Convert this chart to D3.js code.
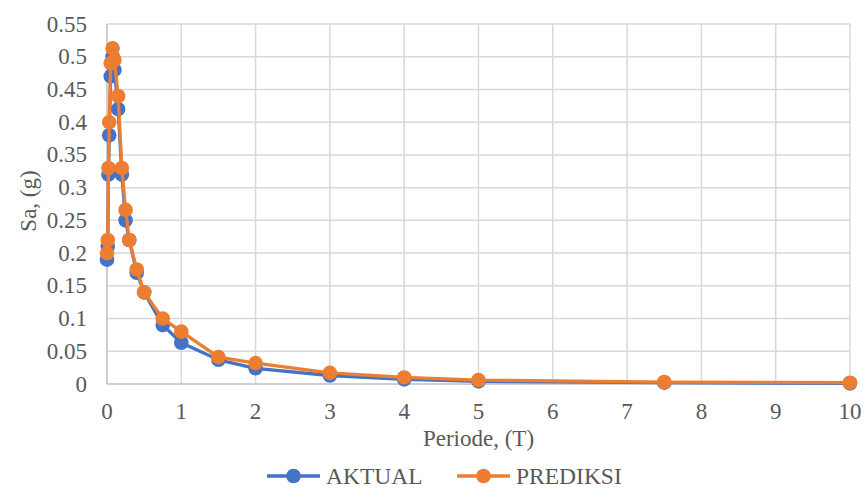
<!DOCTYPE html>
<html><head><meta charset="utf-8">
<script src="https://cdn.jsdelivr.net/npm/d3@7"></script>
<style>body{margin:0;background:#fff;font-family:'Liberation Serif';} svg text{font-family:'Liberation Serif';}</style>
</head><body>
<div style="font-family:'Liberation Serif';font-size:23px;position:absolute;left:0;top:0;visibility:hidden">0.5 Periode</div>
<svg id="c" width="866" height="488"></svg>
<script>
const periods = [0,0.01,0.02,0.03,0.05,0.075,0.1,0.15,0.2,0.25,0.3,0.4,0.5,0.75,1,1.5,2,3,4,5,7.5,10];
const aktual = [0.19,0.21,0.32,0.38,0.47,0.50,0.48,0.42,0.32,0.25,0.22,0.17,0.14,0.09,0.063,0.037,0.024,0.013,0.007,0.004,0.002,0.001];
const prediksi = [0.20,0.22,0.33,0.40,0.49,0.513,0.495,0.44,0.33,0.266,0.22,0.175,0.14,0.10,0.08,0.041,0.032,0.017,0.010,0.006,0.003,0.002];
const xTicks = [0,1,2,3,4,5,6,7,8,9,10];
const yTicks = [0,0.05,0.1,0.15,0.2,0.25,0.3,0.35,0.4,0.45,0.5,0.55];
const seriesNames = ["AKTUAL","PREDIKSI"];
const colors = ["#4472C4","#ED7D31"];

const svg = d3.select("#c");
const L=107, R=850, T=24, B=384;
const x = d3.scaleLinear().domain([0,10]).range([L,R]);
const y = d3.scaleLinear().domain([0,0.55]).range([B,T]);

function txt(sel, s){ return sel.attr("font-family","Liberation Serif").attr("fill","#595959").attr("font-size",s||23); }

svg.append("g").selectAll("line").data(yTicks.slice(1)).join("line")
  .attr("x1",L).attr("x2",R).attr("y1",d=>y(d)).attr("y2",d=>y(d))
  .attr("stroke","#d9d9d9").attr("stroke-width",1.5);
svg.append("g").selectAll("line").data(xTicks.slice(1)).join("line")
  .attr("y1",T).attr("y2",B).attr("x1",d=>x(d)).attr("x2",d=>x(d))
  .attr("stroke","#d9d9d9").attr("stroke-width",1.5);
svg.append("line").attr("x1",L).attr("x2",R).attr("y1",B).attr("y2",B).attr("stroke","#bfbfbf").attr("stroke-width",1.5);
svg.append("line").attr("x1",L).attr("x2",L).attr("y1",T).attr("y2",B).attr("stroke","#bfbfbf").attr("stroke-width",1.5);

txt(svg.append("g").selectAll("text").data(yTicks).join("text"))
  .attr("x",L-20).attr("y",d=>y(d)).attr("dy","0.33em").attr("text-anchor","end")
  .text(d=>d3.format("~g")(d));
txt(svg.append("g").selectAll("text").data(xTicks).join("text"))
  .attr("x",d=>x(d)).attr("y",B+35).attr("text-anchor","middle")
  .text(d=>d);

txt(svg.append("text")).attr("transform",`translate(36,201) rotate(-90)`).attr("text-anchor","middle")
  .text("Sa, (g)");
txt(svg.append("text")).attr("x",(L+R)/2).attr("y",446).attr("text-anchor","middle")
  .text("Periode, (T)");

const data = [aktual,prediksi];
const line = d3.line().x((d,i)=>x(periods[i])).y(d=>y(d));
data.forEach((vals,k)=>{
  const g = svg.append("g");
  g.append("path").datum(vals).attr("d",line).attr("fill","none").attr("stroke",colors[k]).attr("stroke-width",3.3).attr("stroke-linejoin","round");
  g.selectAll("circle").data(vals).join("circle")
    .attr("cx",(d,i)=>x(periods[i])).attr("cy",d=>y(d)).attr("r",7.3).attr("fill",colors[k]);
});

const lx = [267,457];
seriesNames.forEach((n,k)=>{
  const g = svg.append("g");
  g.append("line").attr("x1",lx[k]).attr("x2",lx[k]+53).attr("y1",476).attr("y2",476).attr("stroke",colors[k]).attr("stroke-width",3.3);
  g.append("circle").attr("cx",lx[k]+26.5).attr("cy",476).attr("r",7.3).attr("fill",colors[k]);
  txt(g.append("text"), 23.5).attr("x",lx[k]+59).attr("y",476).attr("dy","0.35em").text(n);
});

// re-apply the font once it is confirmed available, forcing a re-layout of the text
if (document.fonts && document.fonts.load) {
  document.fonts.load('23px "Liberation Serif"', "0.5 Periode").then(()=>{
    svg.selectAll("text").attr("font-family","Times New Roman").attr("font-family","Liberation Serif");
  }).catch(()=>{});
}
</script></body></html>
